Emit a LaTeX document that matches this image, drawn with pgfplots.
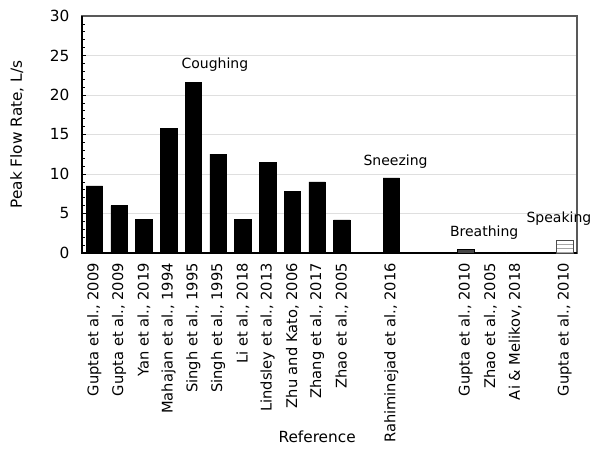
\documentclass[border=0pt]{standalone}
\usepackage{pgfplots}
\pgfplotsset{compat=1.18}
\usepackage{fontspec}
\setmainfont{DejaVu Sans}
\usetikzlibrary{patterns}
\begin{document}
\begin{tikzpicture}
\useasboundingbox (-61.5pt,-147pt) rectangle (381pt,189.75pt);
\begin{axis}[
  at={(0,0)}, anchor=south west, scale only axis,
  width=371.25pt, height=177.75pt,
  xmin=-0.5, xmax=19.5, ymin=0, ymax=30,
  clip=false,
  axis line style={gray!70!black, line width=0.8pt},
  ytick={0,5,...,30}, minor y tick num=4,
  ytick pos=left,
  tick align=inside,
  major tick length=3pt, minor tick length=2.5pt,
  ytick style={black, line width=0.5pt},
  xtick style={draw=none},
  ymajorgrids, major grid style={gray!25, line width=0.7pt},
  xtick={0,1,2,3,4,5,6,7,8,9,10,12,15,16,17,19},
  xticklabels={{Gupta et al., 2009},{Gupta et al., 2009},{Yan et al., 2019},{Mahajan et al., 1994},{Singh et al., 1995},{Singh et al., 1995},{Li et al., 2018},{Lindsley et al., 2013},{Zhu and Kato, 2006},{Zhang et al., 2017},{Zhao et al., 2005},{Rahiminejad et al., 2016},{Gupta et al., 2010},{Zhao et al., 2005},{Ai \& Melikov, 2018},{Gupta et al., 2010}},
  x tick label style={rotate=90, anchor=east, font=\fontsize{11}{13}\selectfont},
  xticklabel shift=4pt,
  y tick label style={font=\fontsize{11.5}{13}\selectfont, xshift=-6pt},
  /pgf/number format/assume math mode=true,
  xlabel={Reference},
  xlabel style={at={(axis description cs:0.475,0)}, anchor=center, yshift=-138pt, font=\fontsize{11.5}{13}\selectfont},
  ylabel={Peak Flow Rate, L/s},
  ylabel style={at={(axis description cs:0,0.5)}, anchor=center, yshift=48.75pt, font=\fontsize{11.5}{13}\selectfont},
]
\draw[black, line width=0.9pt] (rel axis cs:0,1) -- (rel axis cs:0,0) -- (rel axis cs:1,0);
\addplot[ybar, bar width=0.667, bar shift=0pt, fill=black, draw=black] coordinates {
 (0,8.5) (1,6.0) (2,4.3) (3,15.8) (4,21.6) (5,12.5) (6,4.3) (7,11.5) (8,7.8) (9,9.0) (10,4.2) (12,9.5)
};
\addplot[ybar, bar width=0.667, bar shift=0pt, fill=gray!55!black, draw=black] coordinates {
 (15,0.45) (16,0.12) (17,0.12)
};
\addplot[ybar, bar width=0.667, bar shift=0pt, fill=white, draw=gray!60!black, pattern=horizontal lines, pattern color=gray!70] coordinates {
 (19,1.6)
};
\node[font=\fontsize{10.5}{12}\selectfont] at (axis cs:4.87,23.8) {Coughing};
\node[font=\fontsize{10.5}{12}\selectfont] at (axis cs:12.17,11.6) {Sneezing};
\node[font=\fontsize{10.5}{12}\selectfont] at (axis cs:15.75,2.6) {Breathing};
\node[font=\fontsize{10.5}{12}\selectfont] at (axis cs:18.77,4.4) {Speaking};
\end{axis}
\end{tikzpicture}
\end{document}
